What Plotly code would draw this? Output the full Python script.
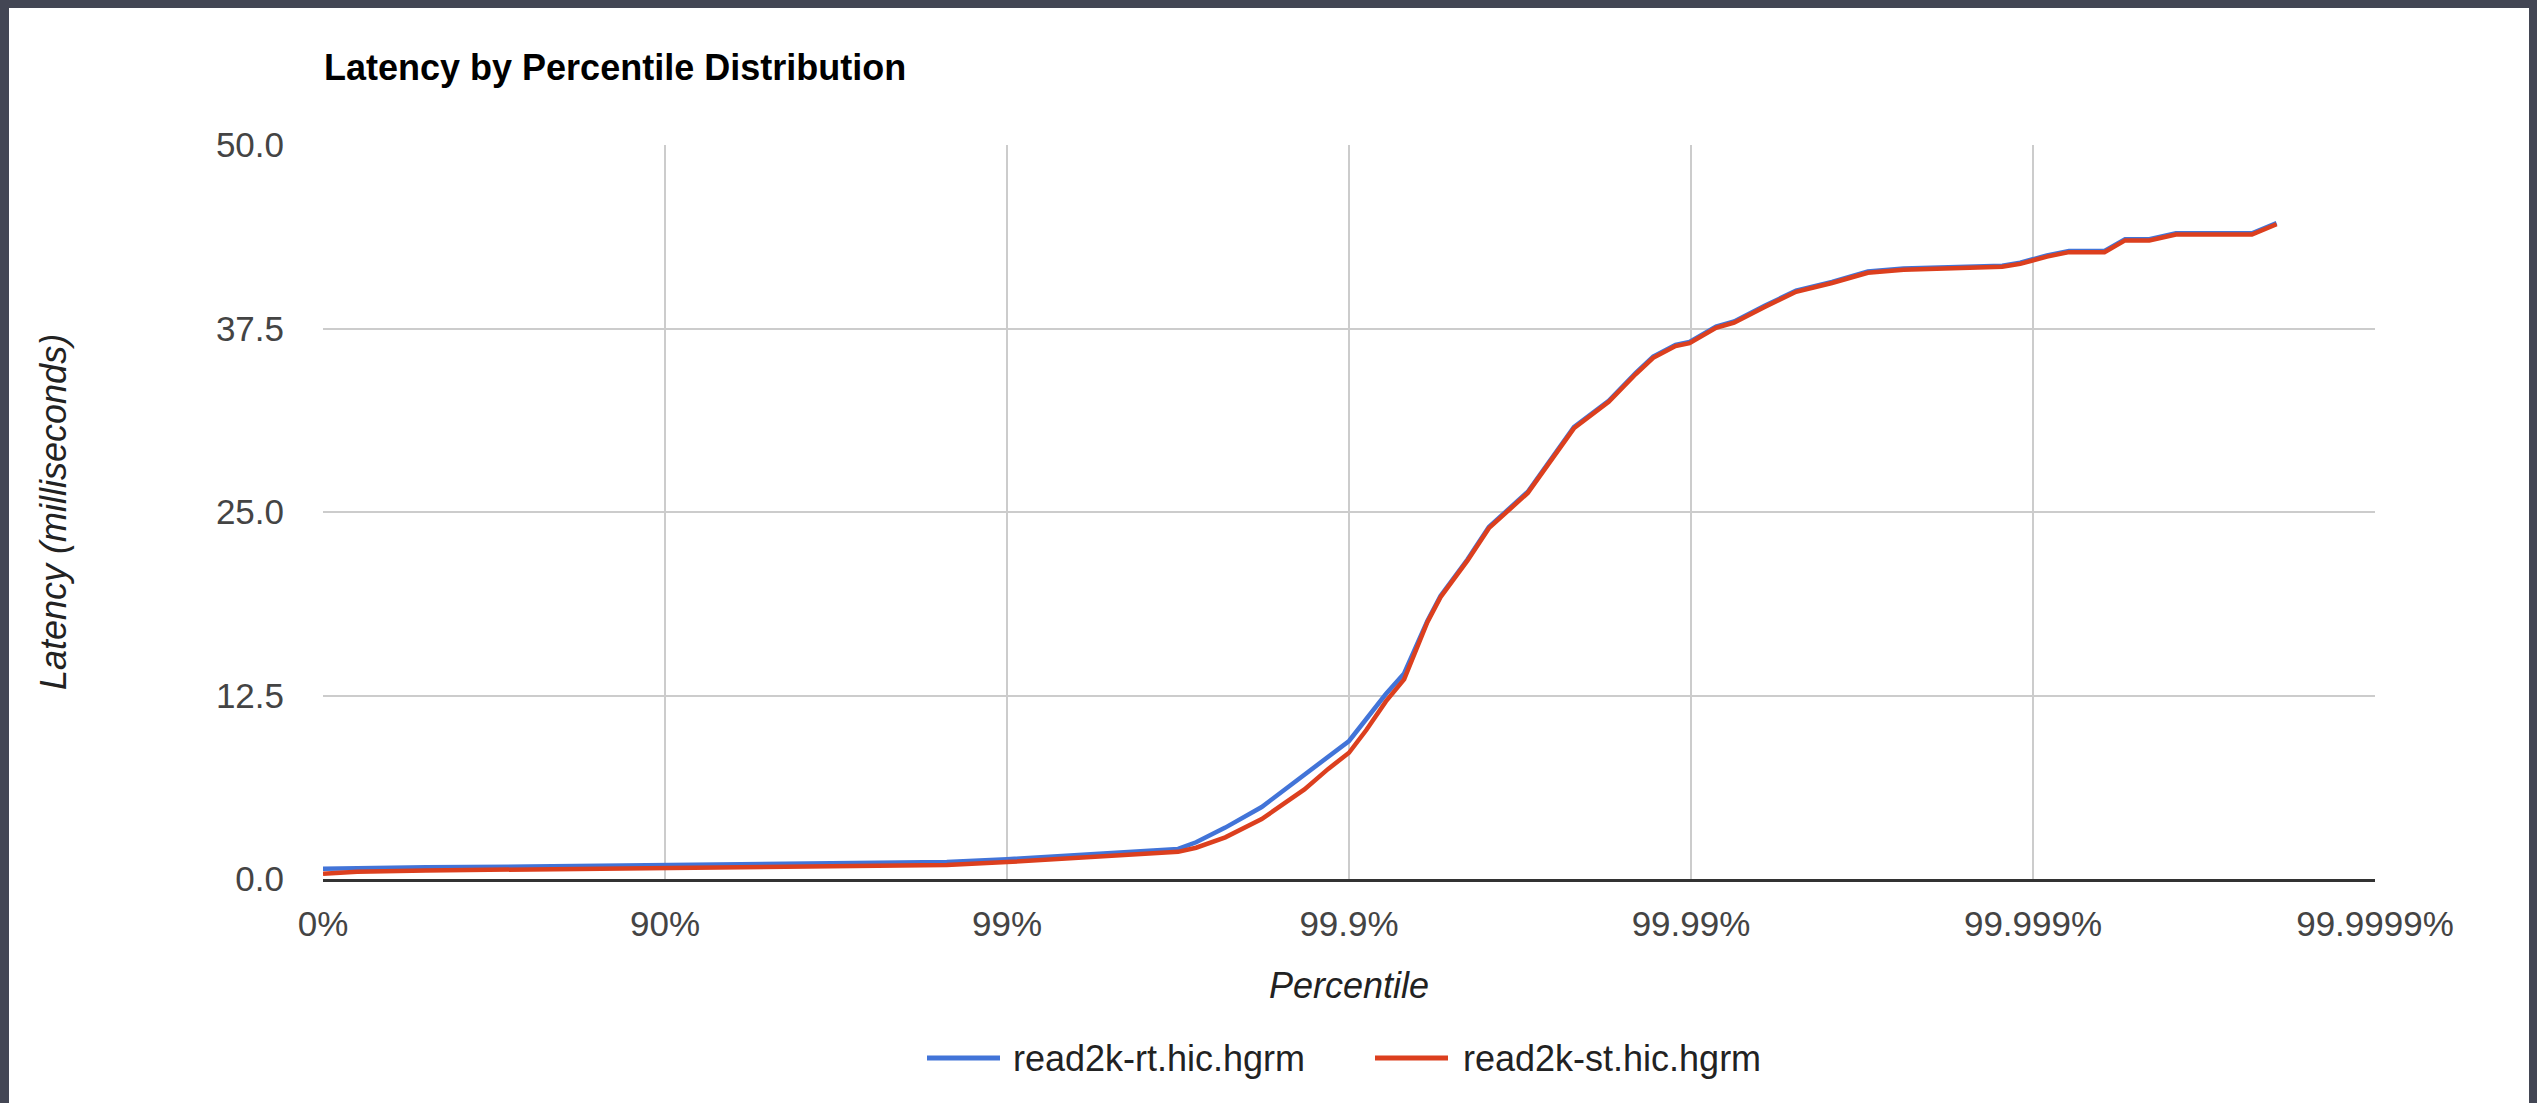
import plotly.graph_objects as go

# ---- data ----
tick_positions = [1, 10, 100, 1000, 10000, 100000, 1000000]
tick_labels = ["0%", "90%", "99%", "99.9%", "99.99%", "99.999%", "99.9999%"]

percentiles = [0, 20.57, 50.0, 75.0, 90.0, 95.0, 97.5, 98.5, 99.0, 99.5,
               99.684, 99.72, 99.77, 99.82, 99.865, 99.885, 99.9, 99.911, 99.922, 99.931,
               99.941, 99.946, 99.955, 99.961, 99.966, 99.970, 99.978, 99.9826, 99.9855, 99.9871,
               99.9889, 99.9899, 99.99155, 99.99252, 99.99393, 99.99507, 99.99613, 99.99696, 99.99761, 99.99877,
               99.99891, 99.99909, 99.999215, 99.999382, 99.999462, 99.999543, 99.999618, 99.999771, 99.999806]

rt_latency = [0.7, 0.75, 0.8, 0.85, 0.95, 1.0, 1.05, 1.15, 1.35, 1.75,
              2.05, 2.5, 3.5, 4.9, 7.1, 8.3, 9.4, 10.9, 12.6, 14.0,
              17.58, 19.28, 21.78, 23.98, 25.28, 26.38, 30.78, 32.58, 34.48, 35.58,
              36.38, 36.58, 37.63, 37.98, 39.06, 40.08, 40.68, 41.38, 41.58, 41.78,
              41.98, 42.48, 42.78, 42.78, 43.58, 43.58, 43.98, 43.98, 44.68]

st_latency = [0.35, 0.5, 0.58, 0.65, 0.72, 0.78, 0.85, 0.95, 1.15, 1.55,
              1.85, 2.13, 2.84, 4.08, 6.1, 7.5, 8.6, 10.15, 12.1, 13.6,
              17.5, 19.2, 21.7, 23.9, 25.2, 26.3, 30.7, 32.5, 34.4, 35.5,
              36.3, 36.5, 37.55, 37.9, 38.98, 40.0, 40.6, 41.3, 41.5, 41.7,
              41.9, 42.4, 42.7, 42.7, 43.5, 43.5, 43.9, 43.9, 44.6]

series_names = ["read2k-rt.hic.hgrm", "read2k-st.hic.hgrm"]
series_colors = ["#4274d8", "#dc3f1e"]
y_ticks = [0, 12.5, 25, 37.5, 50]

# x position: 1/(1-p), shown on a log axis
x_vals = [100.0 / (100.0 - p) for p in percentiles]

FONT = "Liberation Sans, Arial, sans-serif"
W, H = 2537, 1103
L, R, T, B = 323, 162, 145, 224
PW, PH = W - L - R, H - T - B


def px(x):
    return (x - L) / PW


def py(y):
    return (H - B - y) / PH


fig = go.Figure()
for name, ys, col in zip(series_names, [rt_latency, st_latency], series_colors):
    fig.add_trace(go.Scatter(x=x_vals, y=ys, mode="lines", name=name,
                             line=dict(color=col, width=4.5), showlegend=False))

shapes = [
    dict(type="rect", xref="paper", yref="paper", x0=px(9), x1=px(2529), y0=py(1110), y1=py(8),
         fillcolor="white", line=dict(width=0), layer="below"),
]
annotations = [
    dict(text="Latency by Percentile Distribution", xref="paper", yref="paper", x=px(322), y=py(68),
         xanchor="left", yanchor="middle", showarrow=False,
         font=dict(family=FONT, size=36, color="#000", weight="bold")),
    dict(text="Latency (milliseconds)", xref="paper", yref="paper", x=px(53), y=0.5,
         xanchor="center", yanchor="middle", textangle=-90, showarrow=False,
         font=dict(family=FONT, size=36, color="#222", style="italic")),
    dict(text="Percentile", xref="paper", yref="paper", x=0.5, y=py(985),
         xanchor="center", yanchor="middle", showarrow=False,
         font=dict(family=FONT, size=36, color="#222", style="italic")),
]
# manual legend
leg_y = py(1058)
leg_items = [(927, 1000, 1011), (1375, 1448, 1461)]
for (lx0, lx1, tx), name, col in zip(leg_items, series_names, series_colors):
    shapes.append(dict(type="line", xref="paper", yref="paper", x0=px(lx0), x1=px(lx1),
                       y0=leg_y, y1=leg_y, line=dict(color=col, width=5)))
    annotations.append(dict(text=name, xref="paper", yref="paper", x=px(tx), y=leg_y,
                            xanchor="left", yanchor="middle", showarrow=False,
                            font=dict(family=FONT, size=36, color="#222")))

fig.update_layout(
    width=W, height=H,
    margin=dict(l=L, r=R, t=T, b=B, pad=0),
    paper_bgcolor="#434654",
    plot_bgcolor="white",
    shapes=shapes,
    annotations=annotations,
    xaxis=dict(type="log", range=[0, 6], tickmode="array", tickvals=tick_positions, ticktext=tick_labels,
               showgrid=True, gridcolor="#cccccc", gridwidth=2, zeroline=False,
               showline=True, linecolor="#333333", linewidth=3, layer="below traces",
               ticks="", ticklabelstandoff=12,
               tickfont=dict(family=FONT, size=35, color="#444")),
    yaxis=dict(range=[0, 50], tickmode="array", tickvals=y_ticks, tickformat=".1f",
               showgrid=True, gridcolor="#cccccc", gridwidth=2, zeroline=False,
               showline=False, ticks="", ticklabelstandoff=38,
               tickfont=dict(family=FONT, size=35, color="#444")),
)

fig.write_html("out.html")
